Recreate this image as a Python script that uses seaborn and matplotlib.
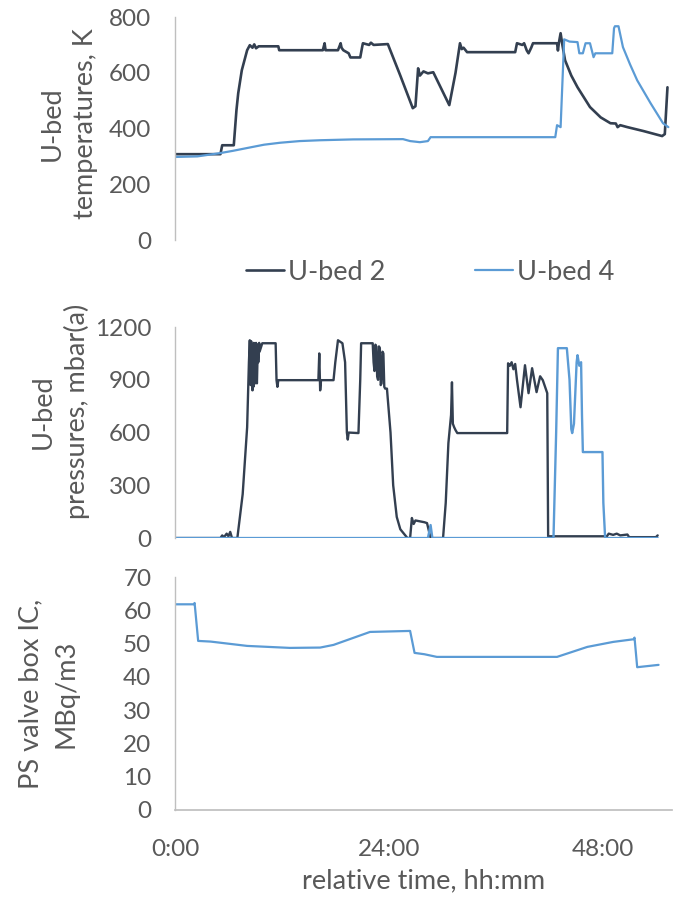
import matplotlib
matplotlib.use("Agg")
import matplotlib.pyplot as plt
from matplotlib.ticker import FuncFormatter
import pandas as pd
import seaborn as sns

sns.set_theme(style="white")
plt.rcParams["font.family"] = ["Lato", "DejaVu Sans"]

DARK = "#333F50"
BLUE = "#5B9BD5"
GREY_TXT = "#595959"
GREY_AX = "#BFBFBF"

# --- U-bed temperatures, K (time in hours)
temp_t_ub2 = [0, 5.1, 5.3, 5.6, 6.6, 6.9, 7.1, 7.5, 8.1, 8.4, 8.7, 8.9, 9.1, 9.4, 11.6, 11.7,
              16.6, 16.8, 16.9, 17.0, 18.3, 18.6, 18.7, 18.9, 19.5, 19.7, 20.8, 21.0, 21.1,
              21.8, 22.0, 22.3, 23.9, 25.3, 26.7, 27.0, 27.3, 27.5, 27.9, 28.4, 29.0, 30.8,
              31.5, 32.0, 32.2, 32.4, 32.8, 38.2, 38.4, 39.0, 39.2, 39.5, 39.7, 40.0, 40.2,
              42.9, 43.0, 43.1, 43.3, 43.5, 43.8, 44.5, 45.2, 46.6, 47.8, 48.9, 49.5, 49.7,
              50.0, 50.8, 52.6, 54.7, 55.0, 55.3]
temp_ub2 = [308, 308, 340, 340, 340, 466, 527, 609, 681, 699, 690, 702, 688, 695, 695, 681,
            681, 706, 681, 681, 681, 706, 690, 681, 670, 655, 655, 690, 706,
            700, 708, 700, 703, 590, 473, 480, 616, 590, 605, 598, 602, 484,
            600, 706, 685, 690, 674, 674, 706, 700, 706, 680, 670, 690, 706,
            706, 680, 706, 742, 700, 645, 590, 548, 477, 440, 419, 418, 405,
            412, 405, 391, 373, 380, 548]

temp_t_ub4 = [0, 2.5, 5.1, 6.5, 8.4, 10, 11.8, 14, 16.3, 20, 25.6, 26.4, 27.5, 28.4, 28.7,
              42.7, 42.9, 43.3, 43.7, 44.3, 45.2, 45.4, 45.8, 46.1, 46.6, 47.0, 47.2, 49.1,
              49.3, 49.4, 49.8, 50.3, 51.1, 51.9, 53.4, 54.8, 55.4]
temp_ub4 = [298, 300, 312, 320, 332, 342, 349, 355, 358, 361, 362, 355, 351, 355, 369,
            369, 412, 405, 720, 712, 710, 670, 670, 706, 706, 656, 670, 670,
            760, 767, 767, 692, 630, 573, 491, 419, 405]

# --- U-bed pressures, mbar(a)
pres_t_ub2 = [0, 5.1, 5.3, 5.5, 5.8, 6.0, 6.2, 6.4, 7.0, 7.6, 8.1, 8.3, 8.4, 8.5, 8.55, 8.6,
              8.65, 8.7, 8.75, 8.8, 8.85, 8.9, 8.95, 9.0, 9.1, 9.15, 9.2, 9.3, 9.35, 9.45,
              9.5, 9.8, 11.3, 11.4, 11.5, 11.6, 16.1, 16.2, 16.3, 16.4, 17.8, 18.0, 18.3,
              18.8, 19.1, 19.3, 19.4, 19.5, 20.6, 20.8, 20.9, 22.2, 22.3, 22.4, 22.5, 22.6,
              22.7, 22.8, 22.9, 23.0, 23.1, 23.2, 23.3, 23.4, 23.5, 23.6, 23.8, 24.2, 24.5,
              24.9, 25.3, 26.1, 26.4, 26.6, 26.8, 27.0, 27.5, 28.0, 28.3, 28.7, 30.1, 30.4,
              30.7, 31.0, 31.1, 31.2, 31.35, 31.5, 31.7, 37.3, 37.4, 37.6, 37.8, 38.0, 38.2,
              38.4, 38.8, 39.3, 39.7, 40.1, 40.6, 41.0, 41.3, 41.8, 41.9, 48.5, 48.7, 49.2,
              49.6, 50.0, 50.8, 51.0, 54.0, 54.2]
pres_ub2 = [0, 0, 15, 5, 25, 10, 35, 0, 0, 250, 630, 1000, 1125, 870, 1120, 900,
            1100, 840, 1080, 860, 1110, 950, 1090, 880, 1110, 900, 880, 1100, 1000, 1110,
            1060, 1108, 1108, 898, 860, 898, 898, 1050, 840, 898, 898, 1000, 1125,
            1108, 1000, 600, 560, 600, 597, 900, 1108, 1108, 1000, 950, 1100, 1090,
            920, 900, 1090, 1080, 870, 880, 1060, 1050, 860, 850, 850, 600, 300,
            120, 50, 0, 0, 114, 80, 100, 95, 90, 85, 0, 0, 200,
            540, 700, 886, 650, 630, 614, 597, 597, 994, 980, 1000, 960, 990,
            900, 744, 983, 824, 966, 830, 920, 898, 824, 10, 10, 25, 18,
            25, 15, 20, 5, 5, 15]

pres_t_ub4 = [0, 28.4, 28.7, 28.9, 42.5, 42.8, 43.0, 44.0, 44.3, 44.5, 44.6, 44.8, 45.1, 45.2,
              45.4, 45.6, 45.7, 45.8, 48.0, 48.1, 48.3, 54.2]
pres_ub4 = [0, 0, 74, 0, 0, 600, 1080, 1080, 900, 620, 597, 650, 1000, 1040,
            980, 1000, 700, 489, 489, 200, 0, 0]

# --- PS valve box IC, MBq/m3
ic_t = [0, 2.1, 2.2, 2.6, 4, 8.1, 12.9, 16.3, 17.8, 21.9, 26.4, 26.9, 28, 29.4, 36.9, 42.9,
        46.3, 49.2, 51.5, 51.6, 51.9, 54.3]
ic_val = [61.8, 61.8, 62.2, 50.8, 50.6, 49.3, 48.7, 48.8, 49.6, 53.5, 53.8, 47.2, 46.8, 46.0,
          46.0, 46.0, 49.0, 50.5, 51.3, 51.8, 42.9, 43.6]

X_MAX = 55.8
TICK_FS = 17.5
LABEL_FS = 19.5


def hhmm(h, pos):
    return "%d:%02d" % (int(h), int(round((h - int(h)) * 60)))


def style_axis(ax, ymax, ystep, show_x=False):
    ax.set_xlim(0, X_MAX)
    ax.set_ylim(0, ymax)
    ax.set_yticks(range(0, ymax + 1, ystep))
    for s in ["top", "right"]:
        ax.spines[s].set_visible(False)
    ax.spines["left"].set_color(GREY_AX)
    ax.spines["left"].set_linewidth(1.0)
    ax.spines["bottom"].set_visible(show_x)
    ax.spines["bottom"].set_color(GREY_AX)
    ax.tick_params(axis="y", length=0, pad=17, labelsize=TICK_FS, labelcolor=GREY_TXT)
    if show_x:
        ax.set_xticks([0, 24, 48])
        ax.xaxis.set_major_formatter(FuncFormatter(hhmm))
        ax.tick_params(axis="x", length=0, pad=21, labelsize=TICK_FS, labelcolor=GREY_TXT)
    else:
        ax.set_xticks([])
    ax.set_xlabel("")
    ax.set_facecolor("white")


fig = plt.figure(figsize=(6.77, 9.02), dpi=100)
ax1 = fig.add_axes([0.2585, 0.7339, 0.734, 0.2472])
ax2 = fig.add_axes([0.2585, 0.4035, 0.734, 0.2339])
ax3 = fig.add_axes([0.2585, 0.1020, 0.734, 0.2583])

df_t2 = pd.DataFrame({"t": temp_t_ub2, "v": temp_ub2})
df_t4 = pd.DataFrame({"t": temp_t_ub4, "v": temp_ub4})
sns.lineplot(data=df_t2, x="t", y="v", ax=ax1, color=DARK, lw=1.9, estimator=None, sort=False, label="U-bed 2")
sns.lineplot(data=df_t4, x="t", y="v", ax=ax1, color=BLUE, lw=1.6, estimator=None, sort=False, label="U-bed 4")
style_axis(ax1, 800, 200)
ax1.set_ylabel("U-bed\ntemperatures, K", fontsize=LABEL_FS, color=GREY_TXT, linespacing=1.4)
ax1.yaxis.set_label_coords(-0.155, 0.52)

df_p2 = pd.DataFrame({"t": pres_t_ub2, "v": pres_ub2})
df_p4 = pd.DataFrame({"t": pres_t_ub4, "v": pres_ub4})
sns.lineplot(data=df_p2, x="t", y="v", ax=ax2, color=DARK, lw=1.7, estimator=None, sort=False)
sns.lineplot(data=df_p4, x="t", y="v", ax=ax2, color=BLUE, lw=1.7, estimator=None, sort=False)
style_axis(ax2, 1200, 300)
ax2.set_ylabel("U-bed\npressures, mbar(a)", fontsize=LABEL_FS, color=GREY_TXT, linespacing=1.4)
ax2.yaxis.set_label_coords(-0.171, 0.6)

df_ic = pd.DataFrame({"t": ic_t, "v": ic_val})
sns.lineplot(data=df_ic, x="t", y="v", ax=ax3, color=BLUE, lw=1.6, estimator=None, sort=False)
style_axis(ax3, 70, 10, show_x=True)
ax3.set_ylabel("PS valve box IC,\nMBq/m3", fontsize=LABEL_FS, color=GREY_TXT, linespacing=1.5)
ax3.yaxis.set_label_coords(-0.195, 0.5)
ax3.set_xlabel("relative time, hh:mm", fontsize=LABEL_FS, color=GREY_TXT, labelpad=6)

handles, labels = ax1.get_legend_handles_labels()
ax1.get_legend().remove()
fig.legend(handles, labels, loc="center", bbox_to_anchor=(430 / 677, 1 - 272 / 902),
           ncol=2, frameon=False, fontsize=LABEL_FS, labelcolor=GREY_TXT,
           handlelength=1.4, handletextpad=0.15, columnspacing=3.3)

fig.savefig("out.png", dpi=100, facecolor="white")
